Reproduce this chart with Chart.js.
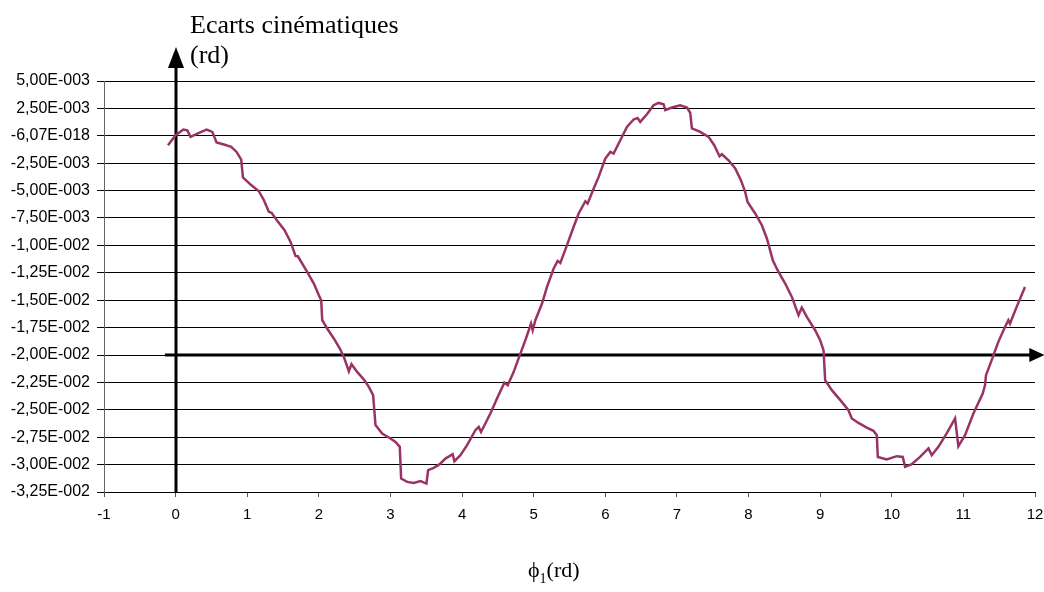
<!DOCTYPE html>
<html>
<head>
<meta charset="utf-8">
<title>Ecarts cinématiques</title>
<script src="https://cdn.jsdelivr.net/npm/chart.js@4/dist/chart.umd.min.js"></script>
<style>
  html, body { margin: 0; padding: 0; background: #fff; }
  #wrap { width: 1044px; height: 592px; position: relative; }
</style>
</head>
<body>
<div id="wrap"><canvas id="my-chart" width="1044" height="592"></canvas></div>
<script>
// phi1 (rd)
var phi = [
  -0.107, 0, 0.107, 0.163, 0.209, 0.326, 0.433, 0.512, 0.572, 0.674,
  0.777, 0.851, 0.916, 0.94, 1.047, 1.163, 1.233, 1.302, 1.34, 1.419,
  1.521, 1.605, 1.674, 1.707, 1.837, 1.93, 2.0, 2.033, 2.047, 2.116,
  2.209, 2.293, 2.349, 2.419, 2.456, 2.535, 2.637, 2.698, 2.758, 2.791,
  2.884, 3.0, 3.07, 3.13, 3.149, 3.233, 3.326, 3.419, 3.502, 3.526,
  3.605, 3.688, 3.767, 3.869, 3.893, 3.977, 4.07, 4.186, 4.233, 4.265,
  4.395, 4.488, 4.59, 4.637, 4.721, 4.814, 4.884, 4.963, 4.986, 5.023,
  5.116, 5.186, 5.279, 5.335, 5.372, 5.465, 5.549, 5.628, 5.721, 5.753,
  5.828, 5.907, 6.0, 6.07, 6.116, 6.209, 6.302, 6.395, 6.451, 6.488,
  6.581, 6.674, 6.744, 6.814, 6.837, 6.93, 7.046, 7.14, 7.186, 7.209,
  7.326, 7.442, 7.521, 7.595, 7.628, 7.721, 7.814, 7.893, 7.953, 7.986,
  8.093, 8.186, 8.256, 8.339, 8.405, 8.512, 8.605, 8.698, 8.744, 8.814,
  8.93, 9.0, 9.047, 9.07, 9.163, 9.302, 9.395, 9.442, 9.535, 9.651,
  9.744, 9.791, 9.805, 9.93, 10.07, 10.153, 10.186, 10.279, 10.395, 10.512,
  10.558, 10.651, 10.767, 10.884, 10.93, 11.023, 11.14, 11.27, 11.302, 11.316,
  11.395, 11.488, 11.581, 11.628, 11.651, 11.744, 11.86
];

// ecarts cinematiques (rd)
var ecarts = [
  -0.00086, 0.00005, 0.00057, 0.0005, -0.0001, 0.00027, 0.00057, 0.00036, -0.00061, -0.0008,
  -0.001, -0.00147, -0.00217, -0.0038, -0.00445, -0.00506, -0.00588, -0.00694, -0.00703, -0.00776,
  -0.00861, -0.00968, -0.01096, -0.01099, -0.01242, -0.01348, -0.01455, -0.015, -0.01682, -0.01758,
  -0.01849, -0.01941, -0.02017, -0.02148, -0.02084, -0.02154, -0.0223, -0.02291, -0.02367, -0.0264,
  -0.02716, -0.02762, -0.02793, -0.02838, -0.03127, -0.03158, -0.03167, -0.03151, -0.03173, -0.03051,
  -0.0303, -0.02996, -0.02945, -0.02905, -0.02969, -0.02914, -0.02823, -0.02686, -0.02656, -0.02702,
  -0.02534, -0.02397, -0.02252, -0.02276, -0.02154, -0.01987, -0.01865, -0.01713, -0.01774, -0.01683,
  -0.0153, -0.01379, -0.01211, -0.01141, -0.0116, -0.00998, -0.00846, -0.00709, -0.00597, -0.00618,
  -0.00496, -0.00375, -0.00207, -0.00147, -0.00162, -0.0004, 0.00081, 0.00149, 0.00163, 0.00127,
  0.00197, 0.00279, 0.003, 0.00288, 0.00234, 0.00258, 0.00279, 0.00258, 0.00209, 0.00067,
  0.00036, -0.0001, -0.00086, -0.00186, -0.00168, -0.00223, -0.00298, -0.00405, -0.00512, -0.00603,
  -0.00709, -0.00816, -0.00937, -0.01135, -0.01226, -0.01348, -0.0147, -0.01637, -0.01567, -0.01652,
  -0.01774, -0.01865, -0.01956, -0.0223, -0.02321, -0.02428, -0.02504, -0.02579, -0.0262, -0.02662,
  -0.02692, -0.02732, -0.0293, -0.02953, -0.02923, -0.0293, -0.03021, -0.02996, -0.0293, -0.02853,
  -0.02914, -0.02838, -0.02716, -0.02579, -0.02832, -0.02732, -0.02534, -0.02351, -0.02276, -0.02184,
  -0.02047, -0.0188, -0.01744, -0.01682, -0.01713, -0.01561, -0.01379
];

// y axis ticks, written the way the spreadsheet prints them
var yTickValues = [0.005, 0.0025, 0, -0.0025, -0.005, -0.0075, -0.01, -0.0125, -0.015,
  -0.0175, -0.02, -0.0225, -0.025, -0.0275, -0.03, -0.0325];
var yTickLabels = ['5,00E-003', '2,50E-003', '-6,07E-018', '-2,50E-003', '-5,00E-003',
  '-7,50E-003', '-1,00E-002', '-1,25E-002', '-1,50E-002', '-1,75E-002', '-2,00E-002',
  '-2,25E-002', '-2,50E-002', '-2,75E-002', '-3,00E-002', '-3,25E-002'];

// where the two hand-drawn arrows sit, in axis units
var arrowX = { y: -0.02, from: -0.15, to: 12.13 };
var arrowY = { x: 0, to: 0.0081 };

var points = phi.map(function (p, i) { return { x: p, y: ecarts[i] }; });

function arrowHead(ctx, tipX, tipY, dir) {
  ctx.beginPath();
  if (dir === 'up') {
    ctx.moveTo(tipX, tipY);
    ctx.lineTo(tipX - 8, tipY + 21);
    ctx.lineTo(tipX + 8, tipY + 21);
  } else {
    ctx.moveTo(tipX, tipY);
    ctx.lineTo(tipX - 15, tipY - 7);
    ctx.lineTo(tipX - 15, tipY + 7);
  }
  ctx.closePath();
  ctx.fill();
}

var axesArrows = {
  id: 'axesArrows',
  beforeDatasetsDraw: function (chart) {
    var ctx = chart.ctx, xs = chart.scales.x, ys = chart.scales.y;
    ctx.save();
    ctx.strokeStyle = '#000';
    ctx.fillStyle = '#000';
    ctx.lineWidth = 3;

    // vertical arrow on phi = 0
    var vx = Math.round(xs.getPixelForValue(arrowY.x));
    var vTop = ys.getPixelForValue(arrowY.to);
    ctx.beginPath();
    ctx.moveTo(vx, chart.chartArea.bottom);
    ctx.lineTo(vx, vTop + 12);
    ctx.stroke();
    arrowHead(ctx, vx, vTop, 'up');

    // horizontal arrow
    var hy = Math.round(ys.getPixelForValue(arrowX.y));
    var hEnd = xs.getPixelForValue(arrowX.to);
    ctx.beginPath();
    ctx.moveTo(xs.getPixelForValue(arrowX.from), hy);
    ctx.lineTo(hEnd - 8, hy);
    ctx.stroke();
    arrowHead(ctx, hEnd, hy, 'right');
    ctx.restore();
  }
};

var axisTitles = {
  id: 'axisTitles',
  afterDraw: function (chart) {
    var ctx = chart.ctx;
    ctx.save();
    ctx.fillStyle = '#000';
    ctx.textBaseline = 'alphabetic';
    ctx.textAlign = 'left';
    ctx.font = '26px "Liberation Serif", "Times New Roman", serif';
    ctx.fillText('Ecarts cinématiques', 190, 33);
    ctx.fillText('(rd)', 190, 63);

    ctx.font = '22px "Liberation Serif", "Times New Roman", serif';
    ctx.fillText('ϕ', 528, 577);
    var w = ctx.measureText('ϕ').width;
    ctx.font = '14px "Liberation Serif", "Times New Roman", serif';
    ctx.fillText('1', 528 + w, 583);
    var w1 = ctx.measureText('1').width;
    ctx.font = '22px "Liberation Serif", "Times New Roman", serif';
    ctx.fillText('(rd)', 528 + w + w1, 577);
    ctx.restore();
  }
};

var chart1 = document.getElementById('my-chart').getContext('2d');

var myChart = new Chart(chart1, {
  type: 'line',
  data: {
    datasets: [{
      label: 'Ecarts',
      data: points,
      borderColor: '#993366',
      borderWidth: 2.5,
      pointRadius: 0,
      tension: 0,
      fill: false
    }]
  },
  options: {
    responsive: false,
    animation: false,
    devicePixelRatio: 1,
    layout: { padding: { left: 0, top: 81, right: 9, bottom: 60 } },
    plugins: {
      legend: { display: false },
      tooltip: { enabled: false }
    },
    scales: {
      x: {
        type: 'linear',
        min: -1,
        max: 12,
        afterFit: function (scale) {
          scale.height = 40;
          // let the "12" label hang past the plot edge
          scale.paddingRight = 0;
          scale.paddingLeft = 0;
        },
        ticks: {
          stepSize: 1,
          padding: 9,
          color: '#000',
          font: { family: '"Liberation Sans", Arial, sans-serif', size: 15 }
        },
        grid: {
          drawOnChartArea: false,
          drawTicks: true,
          tickLength: 5,
          color: '#555'
        },
        border: { color: '#000', width: 1 }
      },
      y: {
        type: 'linear',
        min: -0.0325,
        max: 0.005,
        afterFit: function (scale) { scale.width = 104; },
        afterBuildTicks: function (scale) {
          scale.ticks = yTickValues.map(function (v) { return { value: v }; });
        },
        ticks: {
          padding: 7,
          color: '#000',
          font: { family: '"Liberation Sans", Arial, sans-serif', size: 16 },
          callback: function (value, index) { return yTickLabels[index]; }
        },
        grid: {
          color: '#000',
          lineWidth: 1,
          tickLength: 7
        },
        border: { color: '#666', width: 1 }
      }
    }
  },
  plugins: [axesArrows, axisTitles]
});
</script>
</body>
</html>
